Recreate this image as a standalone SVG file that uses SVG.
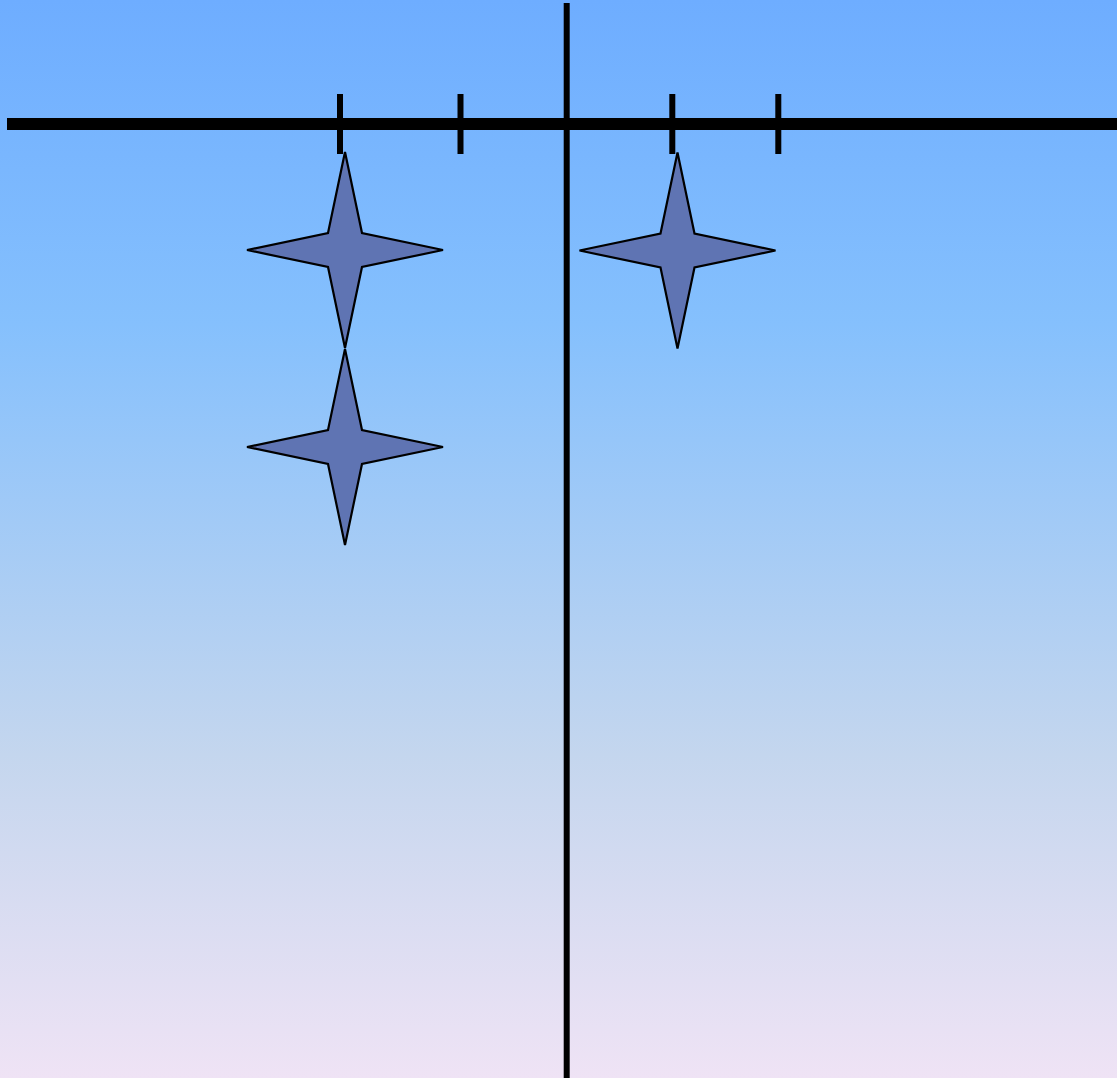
<svg xmlns="http://www.w3.org/2000/svg" width="1117" height="1078" viewBox="0 0 1117 1078">
<defs>
<linearGradient id="bg" x1="0" y1="0" x2="0" y2="1">
<stop offset="0" stop-color="#6eadff"/>
<stop offset="0.3" stop-color="#85c0fd"/>
<stop offset="0.7" stop-color="#c4d6ee"/>
<stop offset="1" stop-color="#efe3f5"/>
</linearGradient>
<path id="star" d="M0,-98 L17,-17 L98,0 L17,17 L0,98 L-17,17 L-98,0 L-17,-17 Z"/>
</defs>
<style>
.star{fill:#5f74b3;stroke:#000;stroke-width:2.2}
.ax{stroke:#000;fill:none}
</style>
<rect width="1117" height="1078" fill="url(#bg)"/>
<g id="connectors">
<line class="ax" x1="7" y1="124" x2="1117" y2="124" stroke-width="12"/>
<line class="ax" x1="566.7" y1="3" x2="566.7" y2="1078" stroke-width="6"/>
<line class="ax" x1="340" y1="94" x2="340" y2="154" stroke-width="6"/>
<line class="ax" x1="460.5" y1="94" x2="460.5" y2="154" stroke-width="6"/>
<line class="ax" x1="672.3" y1="94" x2="672.3" y2="154" stroke-width="6"/>
<line class="ax" x1="778.3" y1="94" x2="778.3" y2="154" stroke-width="6"/>
</g>
<g id="star1"><use href="#star" class="star" transform="translate(345,250)"/></g>
<g id="star2"><use href="#star" class="star" transform="translate(345,447)"/></g>
<g id="star3"><use href="#star" class="star" transform="translate(677.5,250.5)"/></g>
</svg>
